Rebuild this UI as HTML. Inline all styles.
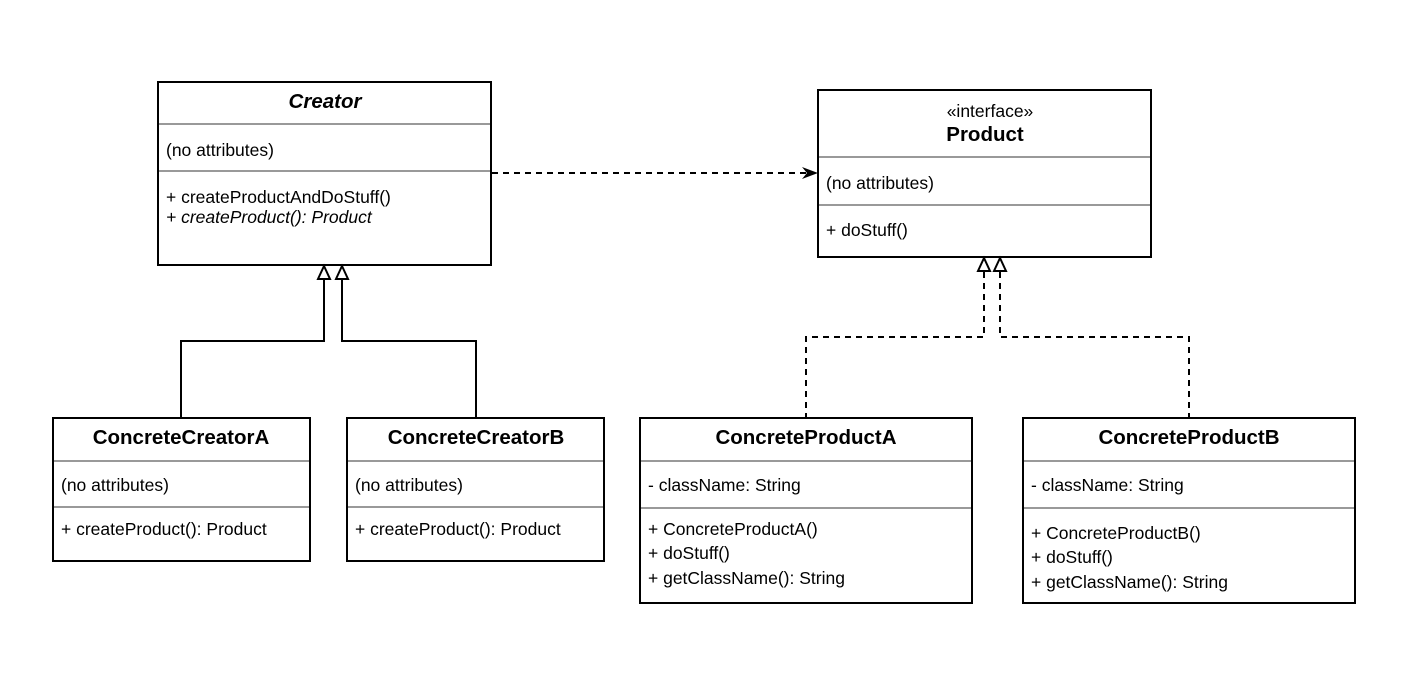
<!DOCTYPE html>
<html><head><meta charset="utf-8"><style>
html,body{margin:0;padding:0;background:#fff;}
svg{display:block;}
text{font-family:"Liberation Sans",Arial,sans-serif;font-size:17.5px;fill:#000;}
.t{font-weight:bold;font-size:20.5px;}
.box{fill:#fff;stroke:#000;stroke-width:2;}
.div{stroke:#999;stroke-width:2;}
.ln{stroke:#000;stroke-width:2;fill:none;}
.dl{stroke:#000;stroke-width:2;fill:none;stroke-dasharray:6,5;}
.tri{fill:#fff;stroke:#000;stroke-width:2;}
</style></head><body>
<svg width="1402" height="679" viewBox="0 0 1402 679">
<!-- Creator -->
<rect class="box" x="158" y="82" width="333" height="183"/>
<line class="div" x1="159" y1="124" x2="490" y2="124"/>
<line class="div" x1="159" y1="171" x2="490" y2="171"/>
<text class="t" x="325" y="108" text-anchor="middle" font-style="italic" font-size="19">Creator</text>
<text x="166" y="156">(no attributes)</text>
<text x="166" y="203">+ createProductAndDoStuff()</text>
<text x="166" y="223" font-style="italic">+ createProduct(): Product</text>

<!-- Product -->
<rect class="box" x="818" y="90" width="333" height="167"/>
<line class="div" x1="819" y1="157" x2="1150" y2="157"/>
<line class="div" x1="819" y1="205" x2="1150" y2="205"/>
<text x="990" y="117" text-anchor="middle" font-size="19">«interface»</text>
<text class="t" x="985" y="141" text-anchor="middle">Product</text>
<text x="826" y="189">(no attributes)</text>
<text x="826" y="236">+ doStuff()</text>

<!-- dependency -->
<line class="dl" x1="492" y1="173" x2="806" y2="173"/>
<path d="M818 173 L802 167 L807 173 L802 179 Z" fill="#000"/>

<!-- Creator generalizations -->
<path class="ln" d="M324 279 V341 H181 V418"/>
<path class="ln" d="M342 279 V341 H476 V418"/>
<path class="tri" d="M324 266 L318 279 L330 279 Z"/>
<path class="tri" d="M342 266 L336 279 L348 279 Z"/>

<!-- Product realizations -->
<path class="dl" d="M984 272 V337 H806 V418"/>
<path class="dl" d="M1000 272 V337 H1189 V418"/>
<path class="tri" d="M984 258 L978 271 L990 271 Z"/>
<path class="tri" d="M1000 258 L994 271 L1006 271 Z"/>

<!-- ConcreteCreatorA -->
<rect class="box" x="53" y="418" width="257" height="143"/>
<line class="div" x1="54" y1="461" x2="309" y2="461"/>
<line class="div" x1="54" y1="507" x2="309" y2="507"/>
<text class="t" x="181" y="444" text-anchor="middle">ConcreteCreatorA</text>
<text x="61" y="491">(no attributes)</text>
<text x="61" y="535">+ createProduct(): Product</text>

<!-- ConcreteCreatorB -->
<rect class="box" x="347" y="418" width="257" height="143"/>
<line class="div" x1="348" y1="461" x2="603" y2="461"/>
<line class="div" x1="348" y1="507" x2="603" y2="507"/>
<text class="t" x="476" y="444" text-anchor="middle">ConcreteCreatorB</text>
<text x="355" y="491">(no attributes)</text>
<text x="355" y="535">+ createProduct(): Product</text>

<!-- ConcreteProductA -->
<rect class="box" x="640" y="418" width="332" height="185"/>
<line class="div" x1="641" y1="461" x2="971" y2="461"/>
<line class="div" x1="641" y1="508" x2="971" y2="508"/>
<text class="t" x="806" y="444" text-anchor="middle">ConcreteProductA</text>
<text x="648" y="491">- className: String</text>
<text x="648" y="535">+ ConcreteProductA()</text>
<text x="648" y="559">+ doStuff()</text>
<text x="648" y="584">+ getClassName(): String</text>

<!-- ConcreteProductB -->
<rect class="box" x="1023" y="418" width="332" height="185"/>
<line class="div" x1="1024" y1="461" x2="1354" y2="461"/>
<line class="div" x1="1024" y1="508" x2="1354" y2="508"/>
<text class="t" x="1189" y="444" text-anchor="middle">ConcreteProductB</text>
<text x="1031" y="491">- className: String</text>
<text x="1031" y="539">+ ConcreteProductB()</text>
<text x="1031" y="563">+ doStuff()</text>
<text x="1031" y="588">+ getClassName(): String</text>
</svg>
</body></html>
